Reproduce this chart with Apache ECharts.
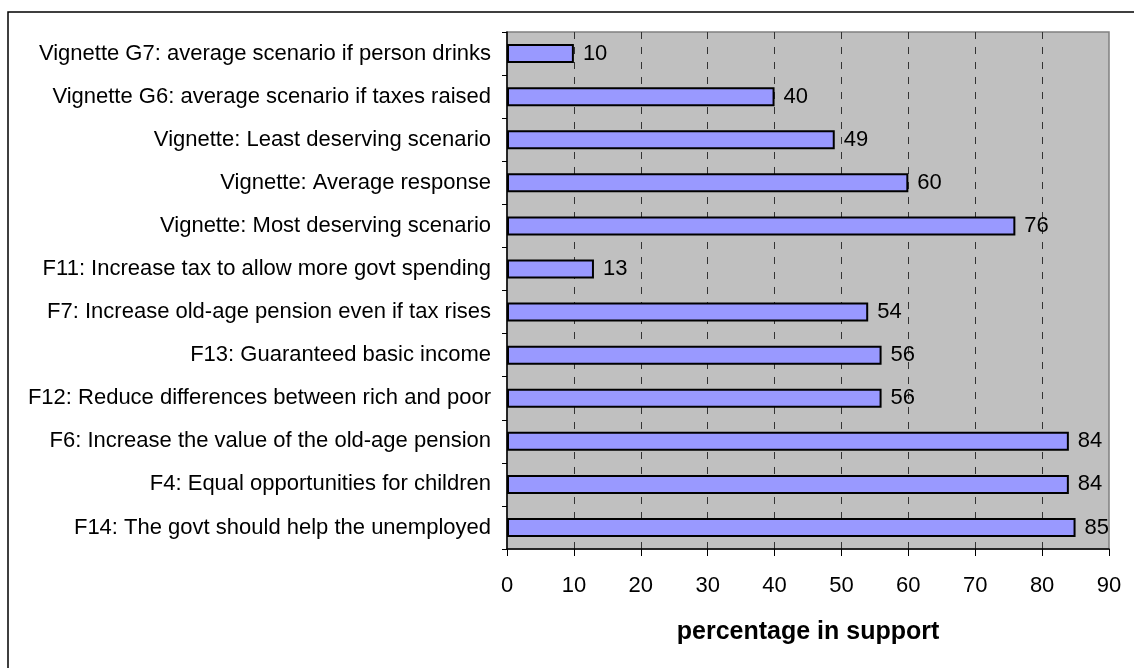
<!DOCTYPE html>
<html>
<head>
<meta charset="utf-8">
<script src="https://cdn.jsdelivr.net/npm/echarts@6/dist/echarts.min.js"></script>
<style>
  html, body { margin: 0; padding: 0; background: #ffffff; }
  #chart { width: 1134px; height: 668px; }
</style>
</head>
<body>
<div id="chart"></div>
<script>
// Survey items, listed top to bottom
const categories = [
  'Vignette G7: average scenario if person drinks',
  'Vignette G6: average scenario if taxes raised',
  'Vignette: Least deserving scenario',
  'Vignette: Average response',
  'Vignette: Most deserving scenario',
  'F11: Increase tax to allow more govt spending',
  'F7: Increase old-age pension even if tax rises',
  'F13: Guaranteed basic income',
  'F12: Reduce differences between rich and poor',
  'F6: Increase the value of the old-age pension',
  'F4: Equal opportunities for children',
  'F14: The govt should help the unemployed'
];

// Share of respondents in support (%)
const support = [10, 40, 49, 60, 76, 13, 54, 56, 56, 84, 84, 85];

// Value axis ticks
const axisMin = 0;
const axisMax = 90;
const axisStep = 10;
const axisTitle = 'percentage in support';

const FONT = '"Liberation Sans", Arial, sans-serif';

const chart = echarts.init(document.getElementById('chart'), null, { renderer: 'canvas' });

chart.setOption({
  backgroundColor: '#ffffff',
  animation: false,
  graphic: [{
    type: 'rect',
    shape: { x: 8, y: 12, width: 1140, height: 670 },
    style: { fill: 'none', stroke: '#000000', lineWidth: 1.5 },
    silent: true,
    z: -1
  }],
  grid: {
    left: 507,
    top: 32,
    right: 25,
    bottom: 119,
    show: true,
    backgroundColor: '#C0C0C0',
    borderColor: '#808080',
    borderWidth: 1.5
  },
  xAxis: {
    type: 'value',
    min: axisMin,
    max: axisMax,
    interval: axisStep,
    name: axisTitle,
    nameLocation: 'middle',
    nameGap: 71,
    nameTextStyle: { fontFamily: FONT, fontSize: 25, fontWeight: 'bold', color: '#000' },
    axisLine: { show: true, lineStyle: { color: '#000', width: 1.5 } },
    axisTick: { show: true, inside: false, length: 7, lineStyle: { color: '#000', width: 1 } },
    axisLabel: { fontFamily: FONT, fontSize: 22, color: '#000', margin: 26 },
    splitLine: {
      show: true,
      showMinLine: false,
      showMaxLine: false,
      lineStyle: { color: '#333333', width: 1, type: [7, 8] }
    }
  },
  yAxis: {
    type: 'category',
    data: categories,
    inverse: true,
    axisLine: { show: true, lineStyle: { color: '#000', width: 1.5 } },
    axisTick: { show: true, inside: false, length: 5, lineStyle: { color: '#000', width: 1 } },
    axisLabel: { fontFamily: FONT, fontSize: 22, color: '#000', margin: 16 },
    splitLine: { show: false }
  },
  series: [{
    type: 'bar',
    data: support,
    barWidth: 19,
    itemStyle: { color: '#9999FF', borderColor: '#000', borderWidth: 2 },
    label: {
      show: true,
      position: 'right',
      distance: 9,
      fontFamily: FONT,
      fontSize: 22,
      color: '#000'
    }
  }]
});
</script>
</body>
</html>
